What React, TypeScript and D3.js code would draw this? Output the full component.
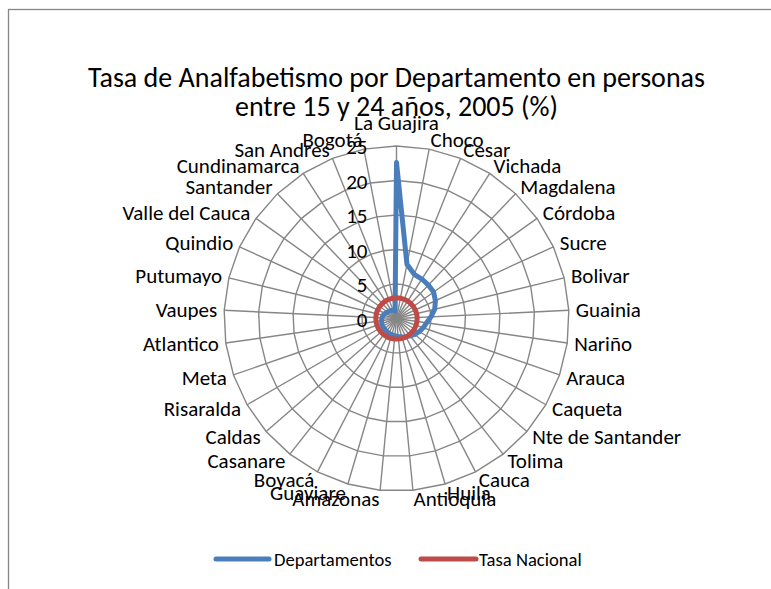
import React from 'react';
import * as d3 from 'd3';

const categories = [
  'La Guajira', 'Choco', 'Cesar', 'Vichada', 'Magdalena', 'Córdoba', 'Sucre', 'Bolivar',
  'Guainia', 'Nariño', 'Arauca', 'Caqueta', 'Nte de Santander', 'Tolima', 'Cauca', 'Huila',
  'Antioquia', 'Amazonas', 'Guaviare', 'Boyacá', 'Casanare', 'Caldas', 'Risaralda', 'Meta',
  'Atlantico', 'Vaupes', 'Putumayo', 'Quindio', 'Valle del Cauca', 'Santander', 'Cundinamarca',
  'San Andres', 'Bogotá',
];

const departamentos = [
  22.6, 8.0, 6.9, 6.8, 6.7, 6.6, 6.2, 5.7,
  5.0, 4.4, 4.1, 3.8, 3.5, 3.2, 3.0, 2.8,
  2.6, 2.5, 2.45, 2.4, 2.35, 2.3, 2.3, 2.25,
  2.2, 2.1, 2.0, 1.8, 1.6, 1.5, 1.4,
  1.3, 1.1,
];

const tasaNacional = [
  3.0, 3.0, 3.0, 3.0, 3.0, 3.0, 3.0, 3.0,
  3.0, 3.0, 3.0, 3.0, 3.0, 3.0, 3.0, 3.0,
  3.0, 3.0, 3.0, 3.0, 3.0, 3.0, 3.0, 3.0,
  3.0, 3.0, 3.0, 3.0, 3.0, 3.0, 3.0,
  3.0, 3.0,
];

const ticks = [0, 5, 10, 15, 20, 25];
const titleLines = ['Tasa de Analfabetismo por Departamento en personas', 'entre 15 y 24 años, 2005 (%)'];

const FONT = 'Carlito, Calibri, Lato, sans-serif';
const GRID = '#868686';
const BLUE = '#4A7EBB';
const RED = '#BE4B48';

export default function App() {
  const width = 771;
  const height = 589;
  const cx = 396.5;
  const cy = 318.5;
  const R = 172.5;

  const rScale = d3.scaleLinear().domain([0, 25]).range([0, R]);
  const n = categories.length;
  const angle = (i: number) => (i * 2 * Math.PI) / n;

  const radial = d3.lineRadial<number>()
    .angle((_, i) => angle(i))
    .radius((d) => rScale(d))
    .curve(d3.curveLinearClosed);

  const gridPath = (v: number) => radial(categories.map(() => v)) as string;

  // Excel-like label placement around the outer ring
  const labels = categories.map((name, i) => {
    const a = angle(i);
    const s = Math.sin(a);
    const c = Math.cos(a);
    const px = R * s;
    const py = -R * c;
    if (Math.abs(s) < 0.01) {
      return { name, x: px, y: py - c * 23, anchor: 'middle' };
    }
    return {
      name,
      x: px + 7 * s,
      y: py - 9 * c,
      anchor: s > 0 ? 'start' : 'end',
    };
  });

  return (
    <div style={{ position: 'fixed', left: 0, top: 0 }}>
      <svg width={width} height={height} style={{ display: 'block', background: '#fff' }}>
        <rect x={8.5} y={9.5} width={width + 20} height={height + 20} fill="#fff" stroke={GRID} strokeWidth={1.3} />

        <g fontFamily={FONT} fontSize={28} textAnchor="middle" fill="#000">
          {titleLines.map((t, i) => (
            <text key={i} x={cx} y={77 + i * 29} dominantBaseline="central">{t}</text>
          ))}
        </g>

        <g transform={`translate(${cx},${cy})`}>
          {ticks.filter((t) => t > 0).map((t) => (
            <path key={t} d={gridPath(t)} fill="none" stroke={GRID} strokeWidth={1.4} />
          ))}
          {categories.map((_, i) => (
            <line
              key={i}
              x1={0}
              y1={0}
              x2={R * Math.sin(angle(i))}
              y2={-R * Math.cos(angle(i))}
              stroke={GRID}
              strokeWidth={1.4}
            />
          ))}

          <path d={radial(departamentos) as string} fill="none" stroke={BLUE} strokeWidth={5} strokeLinejoin="round" />
          <path d={radial(tasaNacional) as string} fill="none" stroke={RED} strokeWidth={5} strokeLinejoin="round" />

          <g fontFamily={FONT} fontSize={21} fill="#000">
            {ticks.map((t) => (
              <text key={t} x={-29} y={-rScale(t) + 1} textAnchor="end" dominantBaseline="central">{t}</text>
            ))}
            {labels.map((l) => (
              <text key={l.name} x={l.x} y={l.y} textAnchor={l.anchor} dominantBaseline="central">{l.name}</text>
            ))}
          </g>
        </g>

        <g fontFamily={FONT} fontSize={18.6} fill="#000">
          <line x1={216} x2={269} y1={559} y2={559} stroke={BLUE} strokeWidth={5} strokeLinecap="round" />
          <text x={274} y={559} dominantBaseline="central">Departamentos</text>
          <line x1={421} x2={476} y1={559} y2={559} stroke={RED} strokeWidth={5} strokeLinecap="round" />
          <text x={479} y={559} dominantBaseline="central">Tasa Nacional</text>
        </g>
      </svg>
    </div>
  );
}
